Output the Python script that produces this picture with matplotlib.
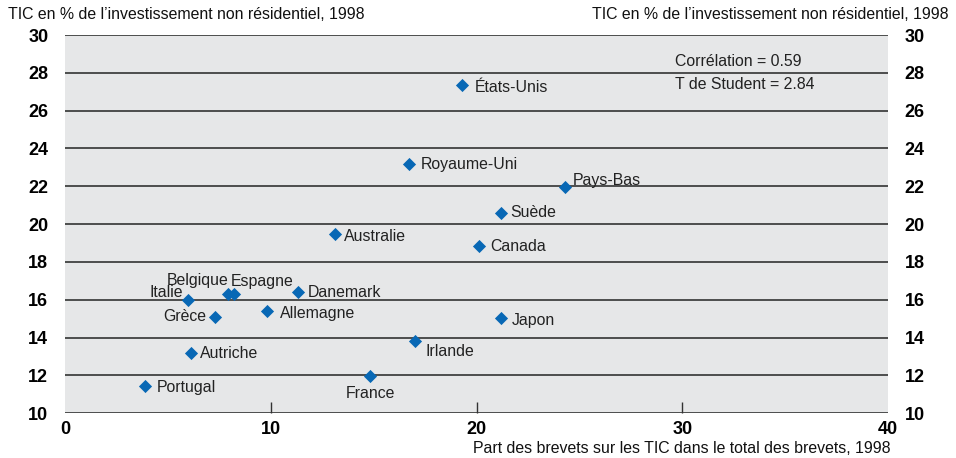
import matplotlib
matplotlib.use('Agg')
import matplotlib.pyplot as plt

# data
pays = ['États-Unis', 'Royaume-Uni', 'Pays-Bas', 'Suède', 'Australie', 'Canada',
        'Danemark', 'Belgique', 'Espagne', 'Italie', 'Grèce', 'Allemagne',
        'Japon', 'Irlande', 'Autriche', 'Portugal', 'France']
brevets = [19.3, 16.7, 24.3, 21.2, 13.1, 20.1,
           11.3, 7.9, 8.2, 6.0, 7.3, 9.8,
           21.2, 17.0, 6.1, 3.9, 14.8]
invest = [27.35, 23.2, 21.95, 20.6, 19.5, 18.85,
          16.4, 16.3, 16.3, 16.0, 15.1, 15.4,
          15.05, 13.8, 13.2, 11.45, 11.95]
yticks = list(range(10, 31, 2))
xticks = [0, 10, 20, 30, 40]

# label placement (pixel offsets, alignment)
lab = {
    'États-Unis': (13, -2, 'left'), 'Royaume-Uni': (12, -1, 'left'),
    'Pays-Bas': (8, 7, 'left'), 'Suède': (9, 0, 'left'),
    'Australie': (9, -3, 'left'), 'Canada': (12, -1, 'left'),
    'Danemark': (10, 0, 'left'), 'Belgique': (1, 14, 'right'),
    'Espagne': (-3, 13, 'left'), 'Italie': (-5, 7, 'right'),
    'Grèce': (-9, 0, 'right'), 'Allemagne': (13, -2, 'left'),
    'Japon': (11, -3, 'left'), 'Irlande': (11, -10, 'left'),
    'Autriche': (9, -1, 'left'), 'Portugal': (11, -2, 'left'),
    'France': (1, -17, 'center'),
}

plt.rcParams['font.family'] = ['Liberation Sans', 'DejaVu Sans']
tickfont = {'family': ['Liberation Sans Narrow', 'Liberation Sans'], 'weight': 'bold', 'size': 13}
fs = 11.4

fig = plt.figure(figsize=(9.56, 4.58), dpi=100)
ax = fig.add_axes([0.068, 0.098, 0.861, 0.8255])
ax.set_facecolor('#e6e7e8')
ax.set_xlim(0, 40)
ax.set_ylim(10, 30)
for s in ax.spines.values():
    s.set_visible(False)
for y in yticks:
    ax.axhline(y, color='#333333', lw=1.2, zorder=1)

ax.scatter(brevets, invest, marker='D', s=45, color='#0868b5', zorder=3, linewidths=0)
for p, x, y in zip(pays, brevets, invest):
    dx, dy, ha = lab[p]
    ax.annotate(p, (x, y), xytext=(dx, dy), textcoords='offset pixels',
                ha=ha, va='center', fontsize=fs, color='#222222', zorder=4)

ax.text(29.65, 28.6, 'Corrélation = 0.59', fontsize=fs, va='center', color='#222222')
ax.text(29.65, 27.4, 'T de Student = 2.84', fontsize=fs, va='center', color='#222222')

ax.set_xticks(xticks)
ax.set_xticklabels([str(t) for t in xticks], fontdict=tickfont)
ax.tick_params(axis='x', direction='in', length=8, width=1, color='#333333', pad=6)
tl = ax.xaxis.get_major_ticks()
tl[0].tick1line.set_visible(False)
tl[-1].tick1line.set_visible(False)
ax.set_yticks(yticks)
ax.set_yticklabels([str(t) for t in yticks], fontdict=tickfont)
ax.tick_params(axis='y', length=0, pad=12, labelleft=True, labelright=True)
ax.tick_params(axis='y', which='both', right=False, left=False)

fig.text(0.008, 0.968, "TIC en % de l’investissement non résidentiel, 1998",
         fontsize=fs, va='center', ha='left', color='#111111')
fig.text(0.992, 0.968, "TIC en % de l’investissement non résidentiel, 1998",
         fontsize=fs, va='center', ha='right', color='#111111')
fig.text(0.932, 0.004, 'Part des brevets sur les TIC dans le total des brevets, 1998',
         fontsize=fs, va='bottom', ha='right', color='#111111')

fig.savefig('out.png', dpi=100)
